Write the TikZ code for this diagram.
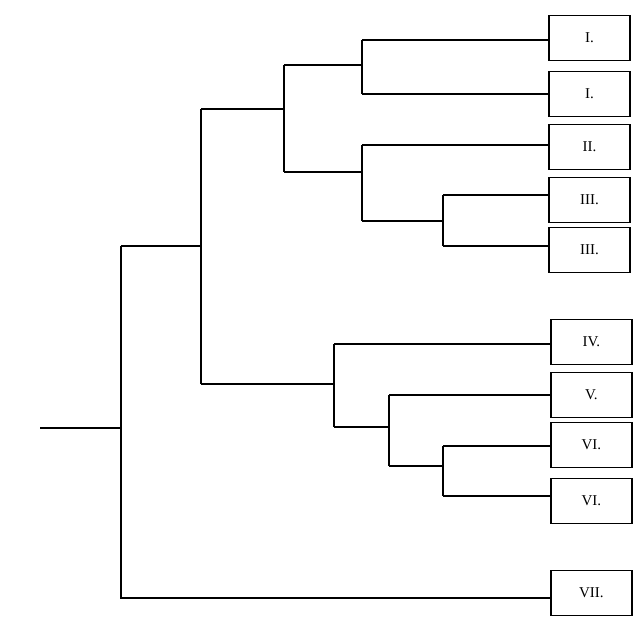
\documentclass[tikz,border=0pt]{standalone}
\usepackage{fontspec}
\setmainfont{Liberation Serif}
\begin{document}
\begin{tikzpicture}[x=1pt,y=-1pt,line width=1.6pt,
  leaf/.style={draw,line width=1.8pt,minimum width=81pt,minimum height=45pt,inner sep=0pt,font=\fontsize{15}{15}\selectfont,anchor=west}]
\useasboundingbox (0,0) rectangle (640,623);
\node[leaf] (a) at (548,38) {I.};
\node[leaf] (b) at (548,94) {I.};
\node[leaf] (c) at (548,147) {II.};
\node[leaf] (d) at (548,200) {III.};
\node[leaf] (e) at (548,250) {III.};
\node[leaf] (f) at (550,342) {IV.};
\node[leaf] (g) at (550,395) {V.};
\node[leaf] (h) at (550,445) {VI.};
\node[leaf] (i) at (550,501) {VI.};
\node[leaf] (j) at (550,593) {VII.};
\coordinate (r) at (40,428);
\draw (r) -- (121,428);
\draw (121,246) -- (121,598) -- (j.west|-121,598);
\draw (121,246) -- (201,246);
\draw (201,109) -- (201,384);
\draw (201,109) -- (284,109);
\draw (284,65) -- (284,172);
\draw (284,65) -- (362,65);
\draw (362,40) -- (362,94);
\draw (362,40) -- (a.west|-362,40);
\draw (362,94) -- (b.west|-362,94);
\draw (284,172) -- (362,172);
\draw (362,145) -- (362,221);
\draw (362,145) -- (c.west|-362,145);
\draw (362,221) -- (443,221);
\draw (443,195) -- (443,246);
\draw (443,195) -- (d.west|-443,195);
\draw (443,246) -- (e.west|-443,246);
\draw (201,384) -- (334,384);
\draw (334,344) -- (334,427);
\draw (334,344) -- (f.west|-334,344);
\draw (334,427) -- (389,427);
\draw (389,395) -- (389,466);
\draw (389,395) -- (g.west|-389,395);
\draw (389,466) -- (443,466);
\draw (443,446) -- (443,496);
\draw (443,446) -- (h.west|-443,446);
\draw (443,496) -- (i.west|-443,496);
\end{tikzpicture}
\end{document}
